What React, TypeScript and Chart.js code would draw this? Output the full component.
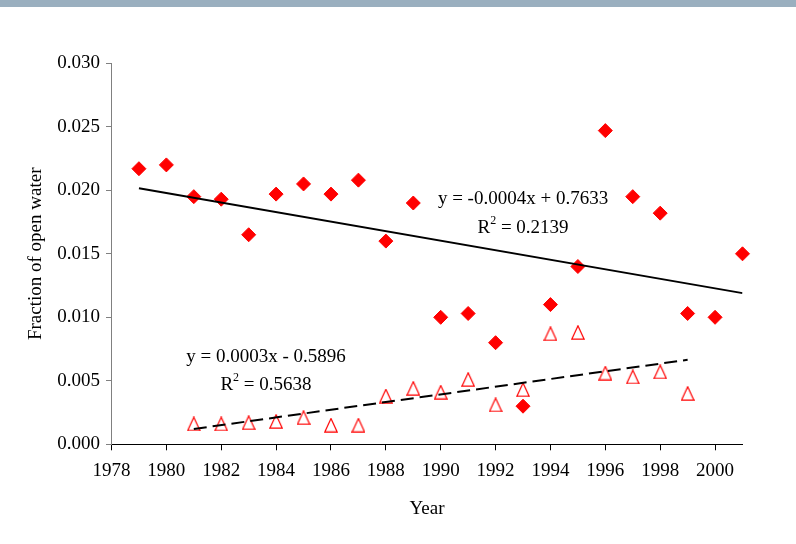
import React, { useEffect, useRef } from "react";
import { Chart, registerables } from "chart.js";

Chart.register(...registerables);

// ---------- data ----------
const yearsTotal = [
  1979, 1980, 1981, 1982, 1983, 1984, 1985, 1986, 1987, 1988, 1989, 1990,
  1991, 1992, 1993, 1994, 1995, 1996, 1997, 1998, 1999, 2000, 2001,
];
const openWaterTotal = [
  0.0217, 0.022, 0.0195, 0.0193, 0.0165, 0.0197, 0.0205, 0.0197, 0.0208,
  0.016, 0.019, 0.01, 0.0103, 0.008, 0.003, 0.011, 0.014, 0.0247, 0.0195,
  0.0182, 0.0103, 0.01, 0.015,
];
const yearsSecond = [
  1981, 1982, 1983, 1984, 1985, 1986, 1987, 1988, 1989, 1990, 1991, 1992,
  1993, 1994, 1995, 1996, 1997, 1998, 1999,
];
const openWaterSecond = [
  0.0016, 0.0016, 0.0017, 0.0018, 0.0021, 0.0015, 0.0015, 0.0038, 0.0044,
  0.0041, 0.0051, 0.0031, 0.0043, 0.0087, 0.0088, 0.0056, 0.0053, 0.0057,
  0.004,
];
const xTickValues = [
  1978, 1980, 1982, 1984, 1986, 1988, 1990, 1992, 1994, 1996, 1998, 2000,
];
const yTickValues = [0, 0.005, 0.01, 0.015, 0.02, 0.025, 0.03];
const equationTotal = "y = -0.0004x + 0.7633";
const rSquaredTotal = "0.2139";
const equationSecond = "y = 0.0003x - 0.5896";
const rSquaredSecond = "0.5638";
const xTitle = "Year";
const yTitle = "Fraction of open water";

// ---------- helpers ----------
function linearFit(xs: number[], ys: number[]) {
  const n = xs.length;
  const mx = xs.reduce((a, b) => a + b, 0) / n;
  const my = ys.reduce((a, b) => a + b, 0) / n;
  let sxy = 0;
  let sxx = 0;
  for (let i = 0; i < n; i++) {
    sxy += (xs[i] - mx) * (ys[i] - my);
    sxx += (xs[i] - mx) * (xs[i] - mx);
  }
  const slope = sxy / sxx;
  const icpt = my - slope * mx;
  const x0 = xs[0];
  const x1 = xs[n - 1];
  return [
    { x: x0, y: icpt + slope * x0 },
    { x: x1, y: icpt + slope * x1 },
  ];
}

const FONT = "'Liberation Serif', 'Times New Roman', serif";
const FONT_SIZE = 19;

function makeTriangle(): HTMLCanvasElement {
  const c = document.createElement("canvas");
  c.width = 14;
  c.height = 15;
  const g = c.getContext("2d")!;
  g.strokeStyle = "#ff0000";
  g.lineWidth = 1.2;
  g.beginPath();
  g.moveTo(7, 0.8);
  g.lineTo(13.2, 14.2);
  g.lineTo(0.8, 14.2);
  g.closePath();
  g.stroke();
  return c;
}

const annotations = [
  { eq: equationTotal, r2: rSquaredTotal, atYear: 1993.0, atValue: 0.01929, gap: 29 },
  { eq: equationSecond, r2: rSquaredSecond, atYear: 1983.63, atValue: 0.00685, gap: 28 },
];

const trendLabelPlugin = {
  id: "trendLabels",
  afterDatasetsDraw(chart: any) {
    const { ctx } = chart;
    const xs = chart.scales.x;
    const ys = chart.scales.y;
    ctx.save();
    ctx.fillStyle = "#000";
    ctx.textBaseline = "middle";
    for (const a of annotations) {
      const cx = xs.getPixelForValue(a.atYear);
      const cy = ys.getPixelForValue(a.atValue);
      ctx.font = `${FONT_SIZE}px ${FONT}`;
      ctx.textAlign = "center";
      ctx.fillText(a.eq, cx, cy);
      // R² line
      const cy2 = cy + a.gap;
      const main = "R";
      const rest = " = " + a.r2;
      const supFont = `12px ${FONT}`;
      ctx.font = `${FONT_SIZE}px ${FONT}`;
      const wR = ctx.measureText(main).width;
      const wRest = ctx.measureText(rest).width;
      ctx.font = supFont;
      const wSup = ctx.measureText("2").width;
      const total = wR + wSup + wRest;
      let sx = cx - total / 2;
      ctx.textAlign = "left";
      ctx.font = `${FONT_SIZE}px ${FONT}`;
      ctx.fillText(main, sx, cy2);
      sx += wR;
      ctx.font = supFont;
      ctx.fillText("2", sx, cy2 - 7);
      sx += wSup;
      ctx.font = `${FONT_SIZE}px ${FONT}`;
      ctx.fillText(rest, sx, cy2);
    }
    ctx.restore();
  },
};

export default function App() {
  const ref = useRef<HTMLCanvasElement | null>(null);

  useEffect(() => {
    if (!ref.current) return;
    const tri = makeTriangle();
    const chart = new Chart(ref.current, {
      type: "scatter",
      data: {
        datasets: [
          {
            type: "line",
            label: "trend total",
            data: linearFit(yearsTotal, openWaterTotal),
            borderColor: "#000",
            borderWidth: 2,
            pointRadius: 0,
            fill: false,
            order: 0,
          },
          {
            type: "line",
            label: "trend second",
            data: linearFit(yearsSecond, openWaterSecond),
            borderColor: "#000",
            borderWidth: 2,
            borderDash: [13, 6],
            pointRadius: 0,
            fill: false,
            order: 0,
          },
          {
            label: "total",
            data: yearsTotal.map((x, i) => ({ x, y: openWaterTotal[i] })),
            pointStyle: "rectRot",
            pointRadius: 7,
            backgroundColor: "#ff0000",
            borderColor: "#ff0000",
            borderWidth: 1,
            clip: false,
            order: 1,
          },
          {
            label: "second",
            data: yearsSecond.map((x, i) => ({ x, y: openWaterSecond[i] })),
            pointStyle: tri as any,
            pointRadius: 7,
            backgroundColor: "rgba(0,0,0,0)",
            borderColor: "#ff0000",
            clip: false,
            order: 1,
          },
        ],
      },
      options: {
        responsive: false,
        animation: false,
        events: [],
        layout: { padding: { top: 63.3, right: 53.5, left: 0, bottom: 0 } },
        plugins: {
          legend: { display: false },
          tooltip: { enabled: false },
        },
        scales: {
          x: {
            type: "linear",
            min: 1978,
            max: 2001,
            afterBuildTicks: (s: any) => {
              s.ticks = xTickValues.map((v) => ({ value: v }));
            },
            afterFit: (s: any) => {
              s.height = 544 - 444.3;
            },
            ticks: {
              color: "#000",
              font: { family: FONT, size: FONT_SIZE },
              padding: 9,
              maxRotation: 0,
              autoSkip: false,
              callback: (v: any) => String(v),
            },
            grid: {
              display: true,
              drawOnChartArea: false,
              drawTicks: true,
              tickLength: 6,
              color: "#000",
              lineWidth: 1,
            },
            border: { display: true, color: "#000", width: 1 },
            title: {
              display: true,
              text: xTitle,
              color: "#000",
              font: { family: FONT, size: FONT_SIZE },
              padding: { top: 0, bottom: 24 },
            },
          },
          y: {
            type: "linear",
            min: 0,
            max: 0.03,
            afterBuildTicks: (s: any) => {
              s.ticks = yTickValues.map((v) => ({ value: v }));
            },
            afterFit: (s: any) => {
              s.width = 111.5;
            },
            ticks: {
              color: "#000",
              font: { family: FONT, size: FONT_SIZE },
              padding: 6,
              callback: (v: any) => Number(v).toFixed(3),
            },
            grid: {
              display: true,
              drawOnChartArea: false,
              drawTicks: true,
              tickLength: 5.5,
              color: "#808080",
              lineWidth: 1,
            },
            border: { display: true, color: "#808080", width: 1 },
            title: {
              display: true,
              text: yTitle,
              color: "#000",
              font: { family: FONT, size: FONT_SIZE },
              padding: { top: 25, bottom: 0 },
            },
          },
        },
      },
      plugins: [trendLabelPlugin],
    } as any);
    return () => chart.destroy();
  }, []);

  return (
    <div
      style={{
        position: "fixed",
        left: 0,
        top: 0,
        width: 796,
        height: 544,
        background: "#fff",
        overflow: "hidden",
      }}
    >
      <div
        style={{
          position: "absolute",
          left: 0,
          top: 0,
          width: 796,
          height: 7,
          background: "#9aafbf",
        }}
      />
      <canvas
        ref={ref}
        width={796}
        height={544}
        style={{ position: "absolute", left: 0, top: 0, width: 796, height: 544 }}
      />
    </div>
  );
}
